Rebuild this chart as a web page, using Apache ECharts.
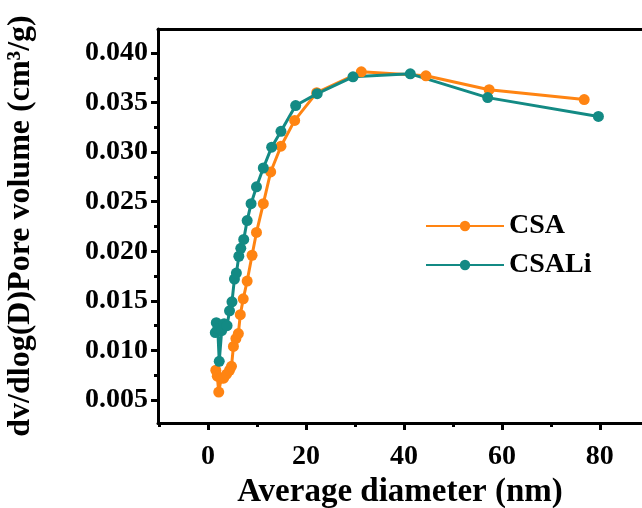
<!DOCTYPE html>
<html>
<head>
<meta charset="utf-8">
<script src="https://cdn.jsdelivr.net/npm/echarts@6/dist/echarts.min.js"></script>
<style>html,body{margin:0;padding:0;background:#fff}#c{width:642px;height:508px}</style>
</head>
<body>
<div id="c"></div>
<script>
// Data
const csaX = [1.6, 1.9, 2.2, 2.7, 3.2, 3.8, 4.4, 4.8, 5.2, 5.7, 6.2, 6.6, 7.2, 8.0, 9.0, 9.9, 11.3, 12.8, 14.9, 17.7, 22.2, 31.3, 44.5, 57.4, 76.8];
const csaY = [0.0080, 0.0074, 0.0058, 0.0072, 0.0072, 0.0076, 0.0080, 0.0084, 0.0104, 0.0112, 0.0117, 0.0136, 0.0152, 0.0170, 0.0196, 0.0219, 0.0248, 0.0280, 0.0306, 0.0332, 0.0360, 0.0381, 0.0377, 0.0363, 0.0353];
const csaliX = [1.5, 1.7, 2.0, 2.3, 2.8, 3.3, 3.9, 4.4, 4.9, 5.4, 5.8, 6.3, 6.7, 7.3, 8.0, 8.8, 9.9, 11.3, 13.0, 14.9, 17.9, 22.3, 29.6, 41.3, 57.1, 79.7];
const csaliY = [0.0118, 0.0128, 0.0122, 0.0089, 0.0120, 0.0127, 0.0125, 0.0140, 0.0149, 0.0172, 0.0178, 0.0195, 0.0203, 0.0212, 0.0231, 0.0248, 0.0265, 0.0284, 0.0305, 0.0321, 0.0347, 0.0359, 0.0376, 0.0379, 0.0355, 0.0336];
const xTicks = [0, 20, 40, 60, 80];
const xMinorTicks = [-10, 10, 30, 50, 70];
const yTicks = [0.005, 0.010, 0.015, 0.020, 0.025, 0.030, 0.035, 0.040];
const yMinorTicks = [0.0075, 0.0125, 0.0175, 0.0225, 0.0275, 0.0325, 0.0375];

const FONT = 'Liberation Serif';
const X_MIN = -10.2, X_MAX = 88.6, Y_MIN = 0.00268, Y_MAX = 0.04242;
const pair = (xs, ys) => xs.map((x, i) => [x, ys[i]]);

const chart = echarts.init(document.getElementById('c'), null, {renderer: 'canvas'});
const lineStyle = {color: '#000', width: 3};
chart.setOption({
  animation: false,
  backgroundColor: '#fff',
  textStyle: {fontFamily: FONT, fontWeight: 'bold', color: '#000'},
  grid: {left: 158, top: 29, right: 0, bottom: 85, containLabel: false, outerBoundsMode: 'none'},
  legend: {
    orient: 'vertical', left: 420, top: 207, itemWidth: 78, itemHeight: 13, itemGap: 11,
    textStyle: {fontFamily: FONT, fontWeight: 'bold', fontSize: 28, color: '#000'},
    data: ['CSA', 'CSALi']
  },
  xAxis: [
    {
      type: 'value', min: X_MIN, max: X_MAX, position: 'bottom',
      name: 'Average diameter (nm)', nameLocation: 'middle', nameGap: 50,
      nameTextStyle: {fontFamily: FONT, fontWeight: 'bold', fontSize: 33, color: '#000'},
      axisLine: {show: true, onZero: false, lineStyle},
      axisTick: {show: true, inside: false, length: 7, lineStyle: {width: 3, color: '#000'}, customValues: xTicks},
      axisLabel: {show: true, margin: 20, fontFamily: FONT, fontWeight: 'bold', fontSize: 28, color: '#000', customValues: xTicks, formatter: v => String(v)},
      splitLine: {show: false}
    },
    {
      type: 'value', min: X_MIN, max: X_MAX, position: 'bottom', gridIndex: 0,
      axisLine: {show: false, onZero: false},
      axisTick: {show: true, length: 4, lineStyle: {width: 3, color: '#000'}, customValues: xMinorTicks},
      axisLabel: {show: false}, splitLine: {show: false}
    },
    {
      type: 'value', min: X_MIN, max: X_MAX, position: 'top', gridIndex: 0,
      axisLine: {show: true, onZero: false, lineStyle},
      axisTick: {show: false}, axisLabel: {show: false}, splitLine: {show: false}
    }
  ],
  yAxis: [
    {
      type: 'value', min: Y_MIN, max: Y_MAX, position: 'left',
      name: 'dv/dlog(D)Pore volume (cm³/g)', nameLocation: 'middle', nameGap: 121, nameRotate: 90,
      nameTextStyle: {fontFamily: FONT, fontWeight: 'bold', fontSize: 32, color: '#000'},
      axisLine: {show: true, onZero: false, lineStyle},
      axisTick: {show: true, length: 7, lineStyle: {width: 3, color: '#000'}, customValues: yTicks},
      axisLabel: {show: true, margin: 10, fontFamily: FONT, fontWeight: 'bold', fontSize: 28, color: '#000', customValues: yTicks, formatter: v => v.toFixed(3)},
      splitLine: {show: false}
    },
    {
      type: 'value', min: Y_MIN, max: Y_MAX, position: 'left',
      axisLine: {show: false, onZero: false},
      axisTick: {show: true, length: 4, lineStyle: {width: 3, color: '#000'}, customValues: yMinorTicks},
      axisLabel: {show: false}, splitLine: {show: false}
    }
  ],
  series: [
    {
      name: 'CSA', type: 'line', data: pair(csaX, csaY), xAxisIndex: 0, yAxisIndex: 0,
      symbol: 'circle', symbolSize: 11, color: '#FF8412',
      lineStyle: {width: 3, color: '#FF8412'}, itemStyle: {color: '#FF8412'}
    },
    {
      name: 'CSALi', type: 'line', data: pair(csaliX, csaliY), xAxisIndex: 0, yAxisIndex: 0,
      symbol: 'circle', symbolSize: 11, color: '#138A84',
      lineStyle: {width: 3, color: '#138A84'}, itemStyle: {color: '#138A84'}
    }
  ]
});
</script>
</body>
</html>
